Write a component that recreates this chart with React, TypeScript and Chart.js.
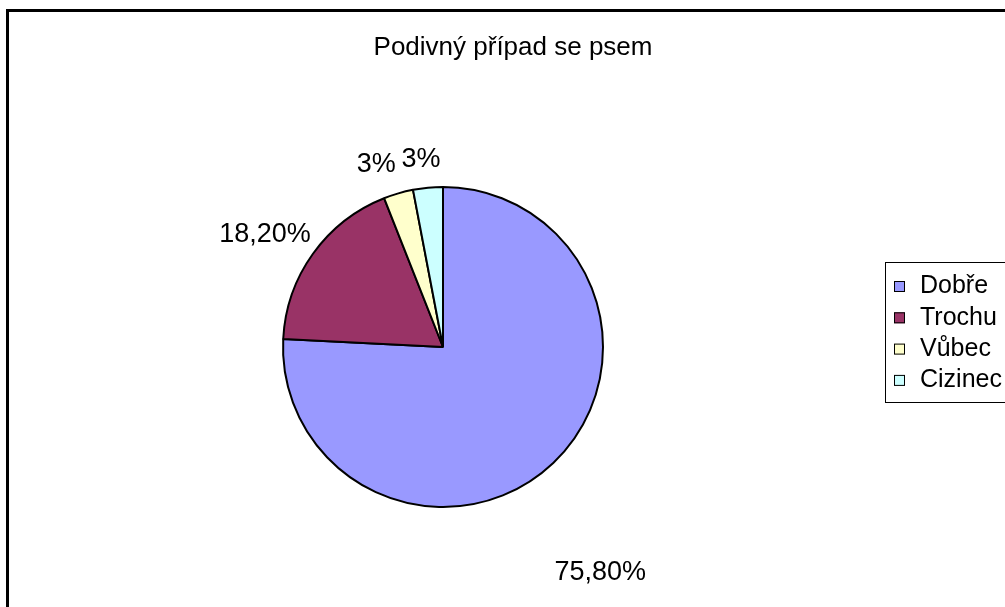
import React, { useEffect, useRef } from "react";
import { Chart, registerables } from "chart.js";

Chart.register(...registerables);

// Chart content
const TITLE = "Podivný případ se psem";
const CATEGORIES = ["Dobře", "Trochu", "Vůbec", "Cizinec"];
const SHARES = [75.8, 18.2, 3, 3];
const COLORS = ["#9999FF", "#993366", "#FFFFCC", "#CCFFFF"];

// Where each percentage label sits, as a shift (px) from the point where the
// slice's middle meets the rim.
const LABEL_OFFSET: [number, number][] = [
  [47, 110],
  [-48, -19],
  [-22, -29],
  [-7, -28],
];

const FONT = "'Liberation Sans', Arial, sans-serif";

const formatShare = (v: number) =>
  Number.isInteger(v) ? `${v}%` : `${v.toFixed(2).replace(".", ",")}%`;

const decorations = {
  id: "excelDecorations",
  afterDraw(chart: Chart) {
    const ctx = chart.ctx;
    ctx.save();

    // outer frame of the chart object (runs off the right/bottom edges)
    ctx.strokeStyle = "#000";
    ctx.lineWidth = 3;
    ctx.strokeRect(7.5, 10.5, 1200, 800);

    // title
    ctx.fillStyle = "#000";
    ctx.font = `26px ${FONT}`;
    ctx.textAlign = "center";
    ctx.textBaseline = "alphabetic";
    ctx.fillText(TITLE, 513, 55);

    // percentage labels around the pie
    const meta = chart.getDatasetMeta(0);
    const values = chart.data.datasets[0].data as number[];
    ctx.font = `27px ${FONT}`;
    ctx.textBaseline = "middle";
    meta.data.forEach((el: any, i: number) => {
      const { x, y, startAngle, endAngle, outerRadius } = el.getProps(
        ["x", "y", "startAngle", "endAngle", "outerRadius"],
        true
      );
      const mid = (startAngle + endAngle) / 2;
      const lx = x + Math.cos(mid) * outerRadius + LABEL_OFFSET[i][0];
      const ly = y + Math.sin(mid) * outerRadius + LABEL_OFFSET[i][1];
      ctx.fillText(formatShare(values[i]), lx, ly);
    });

    // legend box
    ctx.lineWidth = 1;
    ctx.strokeRect(885.5, 262.5, 200, 140);
    const labels = chart.data.labels as string[];
    const fills = chart.data.datasets[0].backgroundColor as string[];
    ctx.textAlign = "left";
    ctx.font = `25px ${FONT}`;
    labels.forEach((label, i) => {
      const cy = 286.5 + i * 31.3;
      ctx.fillStyle = fills[i];
      ctx.fillRect(894, cy - 5.5, 11, 11);
      ctx.strokeStyle = "#000";
      ctx.lineWidth = 1;
      ctx.strokeRect(894.5, cy - 5, 10, 10);
      ctx.fillStyle = "#000";
      ctx.fillText(label, 920, cy);
    });

    ctx.restore();
  },
};

export default function App() {
  const canvasRef = useRef<HTMLCanvasElement | null>(null);

  useEffect(() => {
    if (!canvasRef.current) return;
    const chart = new Chart(canvasRef.current, {
      type: "pie",
      data: {
        labels: CATEGORIES,
        datasets: [
          {
            data: SHARES,
            backgroundColor: COLORS,
            borderColor: "#000",
            borderWidth: 2,
          },
        ],
      },
      options: {
        responsive: false,
        animation: false,
        devicePixelRatio: 1,
        layout: { padding: { left: 282, top: 186, right: 401, bottom: 99 } },
        plugins: {
          legend: { display: false },
          title: { display: false },
          tooltip: { enabled: false },
        },
      },
      plugins: [decorations],
    });
    return () => chart.destroy();
  }, []);

  return (
    <div
      style={{
        position: "absolute",
        left: 0,
        top: 0,
        width: 1005,
        height: 607,
        background: "#fff",
        overflow: "hidden",
      }}
    >
      <canvas ref={canvasRef} width={1005} height={607} />
    </div>
  );
}
